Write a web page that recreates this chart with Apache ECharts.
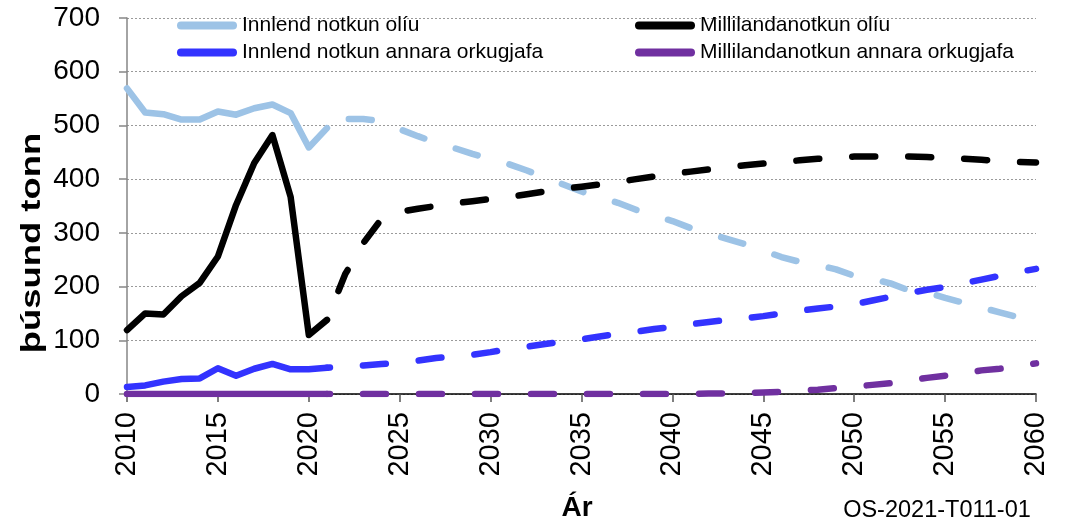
<!DOCTYPE html>
<html>
<head>
<meta charset="utf-8">
<script src="https://cdn.jsdelivr.net/npm/echarts@6/dist/echarts.min.js"></script>
<style>
  html, body { margin: 0; padding: 0; background: #ffffff; }
  #chart { width: 1068px; height: 523px; }
</style>
</head>
<body>
<div id="chart"></div>
<script>
// Measured values, 2010–2021 (þúsund tonn)
const histYears = [2010, 2011, 2012, 2013, 2014, 2015, 2016, 2017, 2018, 2019, 2020, 2021];
const innlendOliaHist   = [569, 524, 521, 511, 511, 526, 520, 532, 539, 523, 459, 495];
const millilandOliaHist = [119, 150, 148, 182, 207, 256, 352, 430, 482, 367, 110, 138];
const innlendAnnaraHist = [13, 16, 23, 28, 29, 48, 34, 47, 56, 46, 46, 49];
const millilandAnnaraHist = [0, 0, 0, 0, 0, 0, 0, 0, 0, 0, 0, 0];

// Forecast, 2021–2060
const spaYears = [];
for (let y = 2021; y <= 2060; y++) spaYears.push(y);
const innlendOliaSpa = [495, 512, 512, 508, 493, 480, 468, 458, 447, 437,
                        428, 416, 403, 390, 377, 366, 356, 343, 332, 322,
                        309, 299, 289, 279, 267, 255, 246, 240, 232, 220,
                        214, 206, 193, 189, 179, 170, 161, 152, 143, 137];
const millilandOliaSpa = [138, 223, 281, 326, 339, 345, 350, 355, 359, 363,
                          367, 372, 377, 382, 386, 390, 395, 400, 405, 410,
                          414, 418, 422, 426, 429, 432, 435, 438, 440, 442,
                          442, 442, 442, 441, 440, 438, 436, 434, 432, 431];
const innlendAnnaraSpa = [49, 51, 53, 56, 58, 62, 67, 70, 73, 78,
                          84, 88, 93, 98, 102, 107, 112, 116, 121, 125,
                          130, 134, 138, 141, 145, 150, 155, 159, 163, 167,
                          174, 181, 188, 194, 199, 206, 213, 220, 227, 233];
const millilandAnnaraSpa = [0, 0, 0, 0, 0, 0, 0, 0, 0, 0,
                            0, 0, 0, 0, 0, 0, 0, 0, 0, 0,
                            0, 1, 1, 2, 3, 4, 6, 8, 11, 14,
                            17, 20, 25, 30, 34, 39, 44, 47, 52, 57];

// Series names and colours
const names = ['Innlend notkun olíu', 'Millilandanotkun olíu',
               'Innlend notkun annara orkugjafa', 'Millilandanotkun annara orkugjafa'];
const colors = ['#9dc3e6', '#000000', '#3333ff', '#7030a0'];

const FONT = "'Liberation Sans', Arial, sans-serif";

function pairs(xs, ys) { return xs.map((x, i) => [x, ys[i]]); }

function solid(i, ys) {
  return {
    name: names[i], type: 'line', data: pairs(histYears, ys),
    symbol: 'none', z: 3 + i,
    lineStyle: { color: colors[i], width: 6.5, cap: 'round', join: 'round' },
    itemStyle: { color: colors[i] }
  };
}
function dashed(i, ys, offset) {
  return {
    name: names[i], type: 'line', data: pairs(spaYears, ys),
    symbol: 'none', z: 3 + i,
    lineStyle: { color: colors[i], width: 6.5, cap: 'round', join: 'round',
                 type: [23, 33], dashOffset: offset },
    itemStyle: { color: colors[i] }
  };
}

const legendIcon = 'path://M4 0H56A4 4 0 0 1 56 8H4A4 4 0 0 1 4 0Z';
function legendAt(i, left, top) {
  return {
    data: [names[i]], left: left, top: top, padding: 0,
    icon: legendIcon, itemWidth: 60, itemHeight: 8,
    selectedMode: false,
    textStyle: { fontFamily: FONT, fontSize: 21, color: '#000' }
  };
}

const chart = echarts.init(document.getElementById('chart'), null, { renderer: 'canvas' });
chart.setOption({
  animation: false,
  backgroundColor: '#ffffff',
  grid: { left: 127, right: 32, top: 18, bottom: 129, containLabel: false },
  legend: [
    legendAt(0, 177, 15),
    legendAt(1, 635, 15),
    legendAt(2, 177, 42),
    legendAt(3, 635, 42)
  ],
  xAxis: {
    type: 'value', min: 2010, max: 2060, interval: 5,
    axisLine: { show: true, lineStyle: { color: '#000', width: 1.5 } },
    axisTick: { show: true, length: 8, lineStyle: { color: '#555', width: 1.5 } },
    axisLabel: { rotate: 90, margin: 18, fontFamily: FONT, fontSize: 29, color: '#000',
                 formatter: v => String(v) },
    splitLine: { show: false }
  },
  yAxis: {
    type: 'value', min: 0, max: 700, interval: 100,
    axisLine: { show: true, lineStyle: { color: '#868686', width: 1.5 } },
    axisTick: { show: true, length: 8, lineStyle: { color: '#868686', width: 1.5 } },
    axisLabel: { margin: 27, fontFamily: FONT, fontSize: 28, color: '#000' },
    splitLine: { show: true, lineStyle: { color: '#9a9a9a', width: 1, type: [2, 2] } }
  },
  graphic: [
    { type: 'text', x: 32, y: 243, rotation: Math.PI / 2, scaleX: 1.3,
      style: { text: 'þúsund tonn', fontFamily: FONT, fontSize: 28, fontWeight: 'bold',
               fill: '#000', align: 'center', verticalAlign: 'middle' } },
    { type: 'text', x: 577, y: 508,
      style: { text: 'Ár', fontFamily: FONT, fontSize: 28, fontWeight: 'bold',
               fill: '#000', align: 'center', verticalAlign: 'middle' } },
    { type: 'text', x: 937, y: 511,
      style: { text: 'OS-2021-T011-01', fontFamily: FONT, fontSize: 23.5,
               fill: '#000', align: 'center', verticalAlign: 'middle' } }
  ],
  series: [
    solid(0, innlendOliaHist),
    dashed(0, innlendOliaSpa, 32),
    solid(1, millilandOliaHist),
    dashed(1, millilandOliaSpa, 25),
    solid(2, innlendAnnaraHist),
    dashed(2, innlendAnnaraSpa, 20),
    solid(3, millilandAnnaraHist),
    dashed(3, millilandAnnaraSpa, 20)
  ]
});
</script>
</body>
</html>
